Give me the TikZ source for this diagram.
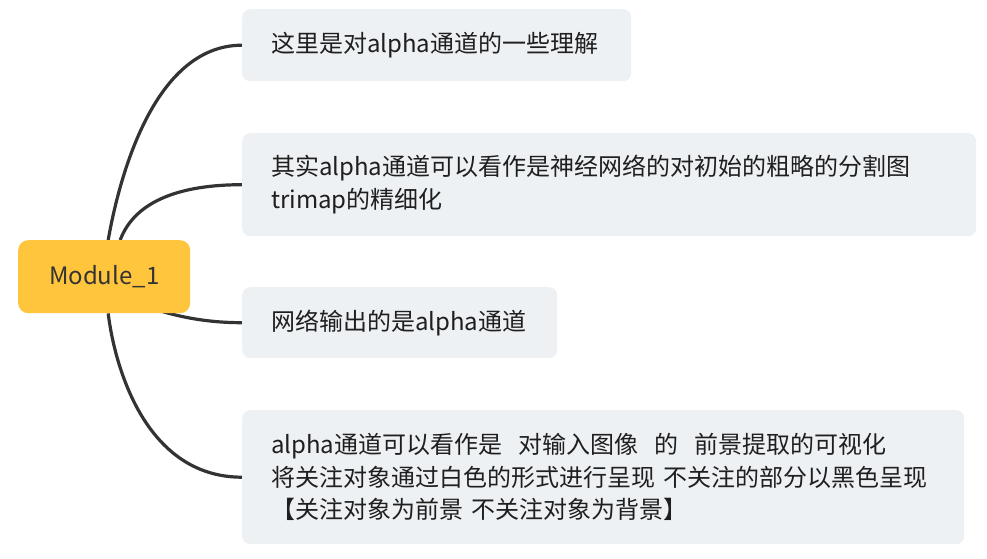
\documentclass[tikz,border=0pt]{standalone}
\usepackage{fontspec}
\setmainfont{Noto Sans CJK SC}
\usetikzlibrary{backgrounds}
\definecolor{boxfill}{HTML}{EEF1F4}
\definecolor{rootfill}{HTML}{FFC53D}
\definecolor{linec}{HTML}{333333}
\definecolor{txt}{HTML}{1F1F1F}
\begin{document}
\begin{tikzpicture}[x=1pt,y=-1pt,
  leaf/.style={fill=boxfill, rounded corners=8pt, inner xsep=29pt, inner ysep=0pt,
    align=left, anchor=north west, font=\fontsize{24}{32.5}\selectfont, text=txt},
  rootnode/.style={fill=rootfill, rounded corners=10pt, anchor=north west,
    minimum width=172pt, minimum height=73pt, inner sep=0pt,
    font=\fontsize{24}{30}\selectfont, text=linec},
  conn/.style={draw=linec, line width=3.2pt}]
\useasboundingbox (0,0) rectangle (987,559);
\node[rootnode] (root) at (18,240) {Module\_1};
\node[leaf, text width=331pt, minimum height=72pt] (b1) at (242,9) {这里是对alpha通道的一些理解};
\node[leaf, text width=676pt, minimum height=103pt] (b2) at (242,133) {其实alpha通道可以看作是神经网络的对初始的粗略的分割图\\trimap的精细化};
\node[leaf, text width=257pt, minimum height=71pt] (b3) at (242,287) {网络输出的是alpha通道};
\node[leaf, text width=664pt, minimum height=134pt] (b4) at (242,410) {alpha通道可以看作是~~对输入图像~~的~~前景提取的可视化\\将关注对象通过白色的形式进行呈现 不关注的部分以黑色呈现\\【关注对象为前景 不关注对象为背景】};
\begin{scope}[on background layer]
\draw[conn] ([xshift=4pt]root.north) .. controls +(10,-57) and +(-90,0) .. (b1.west);
\draw[conn] ([xshift=16pt]root.north) .. controls +(15,-40) and +(-60,0) .. (b2.west);
\draw[conn] ([xshift=26pt,yshift=13pt]root.south) .. controls +(35,14) and +(-42,0) .. (b3.west);
\draw[conn] ([xshift=4pt]root.south) .. controls +(6,50) and +(-98,0) .. (b4.west);
\end{scope}
\end{tikzpicture}
\end{document}
